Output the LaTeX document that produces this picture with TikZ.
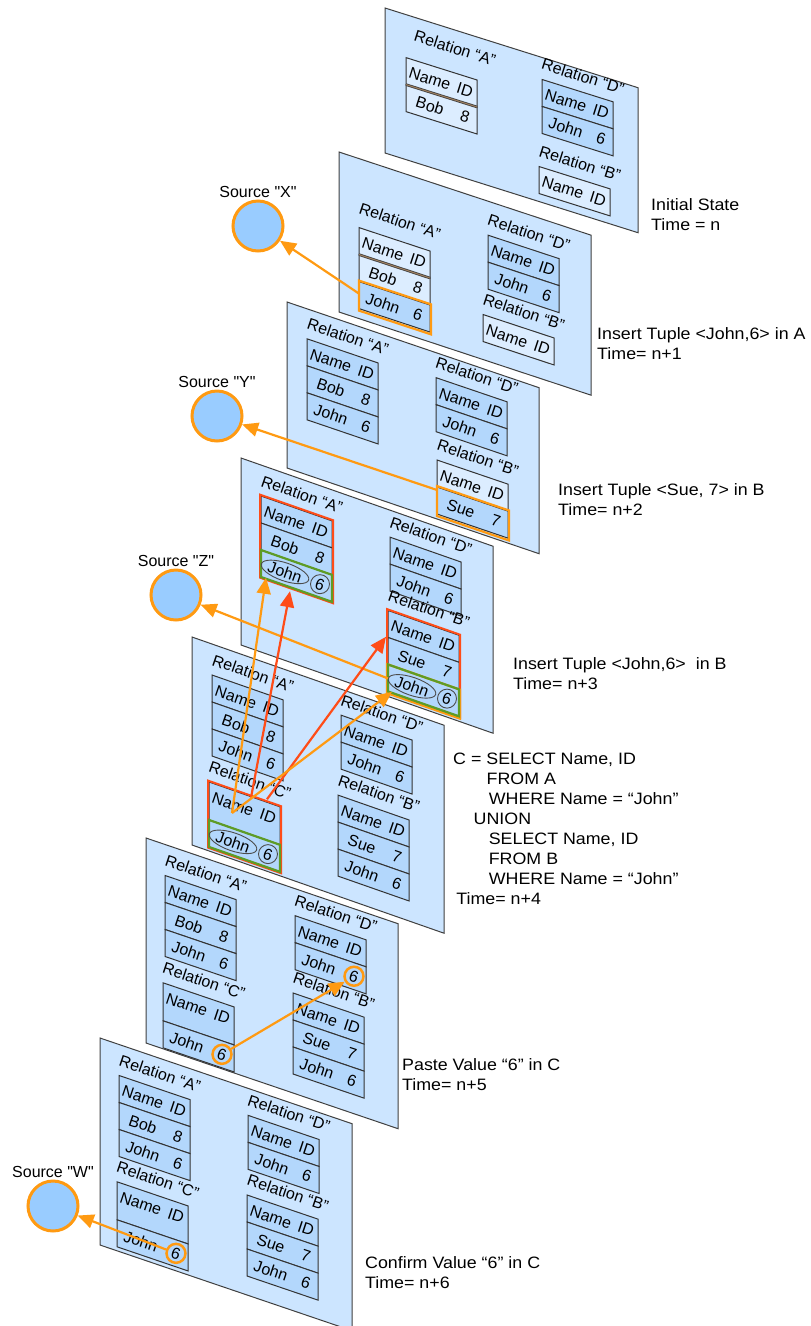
\documentclass[tikz,border=0pt]{standalone}
\usepackage{fontspec}
\setmainfont{Liberation Sans}
\newfontfamily\plainsans{Liberation Sans}[Ligatures=NoCommon]
\usetikzlibrary{arrows.meta,positioning,shapes.geometric}

\definecolor{panelblue}{HTML}{CCE5FF}
\definecolor{cellblue}{HTML}{B3D7FC}
\definecolor{cellpale}{HTML}{DCEDFF}
\definecolor{srcblue}{HTML}{99CCFF}
\definecolor{hotorange}{HTML}{FF9A12}
\definecolor{selred}{HTML}{FF4C18}
\definecolor{matchgreen}{HTML}{5E9C26}

\newcommand{\cellfont}{\fontsize{16}{19}\selectfont}
\newcommand{\notefont}{\fontsize{16.5}{20}\selectfont}
\def\tilt{-18.5}

% label above a relation table: name, u, v (table corner), letter
\newcommand{\reltitle}[4]{%
  \node[rellabel] (#1) at (#2+41,#3-16) {Relation “#4”};}
% one table row: [height] name, u, v, cell style, left text, right text
\newcommand{\trow}[7][27]{%
  \draw[cell,#5] (#3,#4) rectangle ++(71,#1);
  \node[celltext] (#2-l) at (#3+24,#4+13.5) {#6};
  \node[celltext] (#2-r) at (#3+59,#4+13.5) {#7};}

\begin{document}
\begin{tikzpicture}[x=1pt,y=-1pt,
    panel/.style={draw=black!75,fill=panelblue,line width=1pt},
    cell/.style={draw=black!80,fill=cellblue,line width=1pt},
    pale/.style={fill=cellpale},
    sepline/.style={draw=black!75,double=brown!50!gray,double distance=1pt,line width=0.8pt},
    celltext/.style={rotate=\tilt,inner sep=0pt,text height=11.5pt,text depth=0pt,font=\cellfont},
    rellabel/.style={rotate=\tilt,inner sep=0pt,font=\cellfont},
    insbox/.style={draw=hotorange,line width=2.2pt},
    selbox/.style={draw=selred,line width=2pt},
    matchbox/.style={draw=matchgreen,line width=2.2pt},
    ring/.style={ellipse,draw=black!70,line width=0.9pt,minimum width=50pt,minimum height=18pt,rotate=\tilt},
    dot/.style={circle,draw=black!70,line width=0.9pt,minimum size=19pt},
    hotdot/.style={circle,draw=hotorange,line width=2.5pt,minimum size=19pt},
    source/.style={circle,draw=hotorange,fill=srcblue,line width=3pt,minimum size=50pt,inner sep=0pt},
    srclabel/.style={inner sep=0pt,font=\plainsans\cellfont},
    note/.style={anchor=north west,inner sep=0pt,align=left,font=\notefont,xscale=1.08},
    hotarrow/.style={draw=hotorange,line width=2.2pt,-{Triangle[length=16pt,width=14pt]}},
    redarrow/.style={draw=selred,line width=2.2pt,-{Triangle[length=16pt,width=14pt]}}]
\useasboundingbox (0,0) rectangle (811,1326);

% time n
\begin{scope}[shift={(385,8)},cm={1,-0.315,0,1,(0,0)}]
  \def\tilt{-17.5}
  \filldraw[panel] (0,0) rectangle (253,145);
  \reltitle{p1a-t}{29}{34}{A}
  \trow{p1a1}{21}{43}{pale}{Name}{ID}
  \trow{p1a2}{21}{70}{pale}{Bob}{8}
  \draw[sepline] (21,70) -- ++(71,0);
  \reltitle{p1d-t}{157}{22}{D}
  \trow{p1d1}{157}{22}{}{Name}{ID}
  \trow{p1d2}{157}{49}{}{John}{6}
  \reltitle{p1b-t}{154}{110}{B}
  \trow{p1b1}{154}{110}{pale}{Name}{ID}
\end{scope}

% time n+1
\begin{scope}[shift={(339,152)},cm={1,-0.33,0,1,(0,0)}]
  \def\tilt{-18.3}
  \filldraw[panel] (0,0) rectangle (252,160);
  \reltitle{p2a-t}{20}{65}{A}
  \trow{p2a1}{20}{69}{pale}{Name}{ID}
  \trow{p2a2}{20}{96}{pale}{Bob}{8}
  \trow{p2a3}{20}{123}{}{John}{6}
  \draw[sepline] (20,96) -- ++(71,0);
  \draw[insbox] (20,122) rectangle ++(72,30);
  \coordinate (p2-out) at (20,135);
  \reltitle{p2d-t}{149}{34}{D}
  \trow{p2d1}{149}{34}{}{Name}{ID}
  \trow{p2d2}{149}{61}{}{John}{6}
  \reltitle{p2b-t}{144}{115}{B}
  \trow{p2b1}{144}{115}{pale}{Name}{ID}
\end{scope}

% time n+2
\begin{scope}[shift={(287,302)},cm={1,-0.34,0,1,(0,0)}]
  \filldraw[panel] (0,0) rectangle (252,166);
  \reltitle{p3a-t}{20}{30}{A}
  \trow{p3a1}{20}{30}{}{Name}{ID}
  \trow{p3a2}{20}{57}{}{Bob}{8}
  \trow{p3a3}{20}{84}{}{John}{6}
  \reltitle{p3d-t}{149}{25}{D}
  \trow{p3d1}{149}{25}{}{Name}{ID}
  \trow{p3d2}{149}{52}{}{John}{6}
  \reltitle{p3b-t}{150}{107}{B}
  \trow{p3b1}{150}{107}{pale}{Name}{ID}
  \trow{p3b2}{150}{134}{}{Sue}{7}
  \draw[insbox] (150,133) rectangle ++(72,30);
  \coordinate (p3-out) at (150,137);
\end{scope}

% time n+3
\begin{scope}[shift={(241,458)},cm={1,-0.35,0,1,(0,0)}]
  \def\tilt{-19}
  \filldraw[panel] (0,0) rectangle (252,187);
  \reltitle{p4a-t}{20}{31}{A}
  \trow{p4a1}{20}{31}{}{Name}{ID}
  \trow{p4a2}{20}{58}{}{Bob}{8}
  \trow{p4a3}{20}{85}{}{John}{6}
  \draw[selbox] (19,30) rectangle ++(73,83);
  \draw[matchbox] (20,85) rectangle ++(71,27);
  \node[ring] (p4a-ring) at (p4a3-l) {};
  \node[dot] (p4a-dot) at (p4a3-r) {};
  \reltitle{p4d-t}{149}{27}{D}
  \trow{p4d1}{149}{27}{}{Name}{ID}
  \trow{p4d2}{149}{54}{}{John}{6}
  \reltitle{p4b-t}{147}{101}{B}
  \trow{p4b1}{147}{101}{}{Name}{ID}
  \trow{p4b2}{147}{128}{}{Sue}{7}
  \trow{p4b3}{147}{155}{}{John}{6}
  \draw[selbox] (146,100) rectangle ++(73,83);
  \draw[insbox] (146,155) rectangle ++(73,29);
  \draw[matchbox] (147,155) rectangle ++(71,27);
  \node[ring] (p4b-ring) at (p4b3-l) {};
  \node[dot] (p4b-dot) at (p4b3-r) {};
  \coordinate (p4-out) at (147,169);
  \coordinate (p4-a-hit) at (25,111);
  \coordinate (p4-a-red) at (49,116);
  \coordinate (p4-b-red) at (145,128);
  \coordinate (p4-b-hit) at (151,181);
\end{scope}

% time n+4
\begin{scope}[shift={(192,637)},cm={1,-0.35,0,1,(0,0)}]
  \def\tilt{-19}
  \filldraw[panel] (0,0) rectangle (252,208);
  \reltitle{p5a-t}{20}{31}{A}
  \trow{p5a1}{20}{31}{}{Name}{ID}
  \trow{p5a2}{20}{58}{}{Bob}{8}
  \trow{p5a3}{20}{85}{}{John}{6}
  \reltitle{p5c-t}{17}{139}{C}
  \trow[38]{p5c1}{17}{139}{}{Name}{ID}
  \trow{p5c2}{17}{177}{}{John}{6}
  \draw[selbox] (16,138) rectangle ++(73,67);
  \draw[matchbox] (17,177) rectangle ++(71,27);
  \node[ring] (p5c-ring) at (p5c2-l) {};
  \node[dot] (p5c-dot) at (p5c2-r) {};
  \reltitle{p5d-t}{149}{26}{D}
  \trow{p5d1}{149}{26}{}{Name}{ID}
  \trow{p5d2}{149}{53}{}{John}{6}
  \reltitle{p5b-t}{146}{107}{B}
  \trow{p5b1}{146}{107}{}{Name}{ID}
  \trow{p5b2}{146}{134}{}{Sue}{7}
  \trow{p5b3}{146}{161}{}{John}{6}
  \coordinate (p5-out) at (40,162);
  \coordinate (p5-red1) at (59,140);
  \coordinate (p5-red2) at (75,136);
\end{scope}

% time n+5
\begin{scope}[shift={(146,838)},cm={1,-0.34,0,1,(0,0)}]
  \filldraw[panel] (0,0) rectangle (252,205);
  \reltitle{p6a-t}{19}{31}{A}
  \trow{p6a1}{19}{31}{}{Name}{ID}
  \trow{p6a2}{19}{58}{}{Bob}{8}
  \trow{p6a3}{19}{85}{}{John}{6}
  \reltitle{p6c-t}{17}{139}{C}
  \trow[38]{p6c1}{17}{139}{}{Name}{ID}
  \trow{p6c2}{17}{177}{}{John}{6}
  \node[hotdot] (p6c-dot) at (p6c2-r) {};
  \reltitle{p6d-t}{149}{27}{D}
  \trow{p6d1}{149}{27}{}{Name}{ID}
  \trow{p6d2}{149}{54}{}{John}{6}
  \node[hotdot] (p6d-dot) at (p6d2-r) {};
  \reltitle{p6b-t}{147}{105}{B}
  \trow{p6b1}{147}{105}{}{Name}{ID}
  \trow{p6b2}{147}{132}{}{Sue}{7}
  \trow{p6b3}{147}{159}{}{John}{6}
\end{scope}

% time n+6
\begin{scope}[shift={(100,1038)},cm={1,-0.34,0,1,(0,0)}]
  \filldraw[panel] (0,0) rectangle (252,207);
  \reltitle{p7a-t}{19}{31}{A}
  \trow{p7a1}{19}{31}{}{Name}{ID}
  \trow{p7a2}{19}{58}{}{Bob}{8}
  \trow{p7a3}{19}{85}{}{John}{6}
  \reltitle{p7c-t}{17}{138}{C}
  \trow[38]{p7c1}{17}{138}{}{Name}{ID}
  \trow{p7c2}{17}{176}{}{John}{6}
  \node[hotdot] (p7c-dot) at (p7c2-r) {};
  \reltitle{p7d-t}{148}{27}{D}
  \trow{p7d1}{148}{27}{}{Name}{ID}
  \trow{p7d2}{148}{54}{}{John}{6}
  \reltitle{p7b-t}{147}{107}{B}
  \trow{p7b1}{147}{107}{}{Name}{ID}
  \trow{p7b2}{147}{134}{}{Sue}{7}
  \trow{p7b3}{147}{161}{}{John}{6}
\end{scope}

% sources
\node[source] (srcX) at (258,226) {};
\node[srclabel,above=2pt of srcX] (srcX-t) {Source "X"};
\node[source] (srcY) at (217,416) {};
\node[srclabel,above=2pt of srcY] (srcY-t) {Source "Y"};
\node[source] (srcZ) at (176,595) {};
\node[srclabel,above=2pt of srcZ] (srcZ-t) {Source "Z"};
\node[source] (srcW) at (53,1206) {};
\node[srclabel,above=2pt of srcW] (srcW-t) {Source "W"};

% arrows
\draw[hotarrow] (p2-out) -- (srcX);
\draw[hotarrow] (p3-out) -- (srcY);
\draw[hotarrow] (p4-out) -- (srcZ);
\draw[hotarrow] (p5-out) -- (p4-a-hit);
\draw[redarrow] (p5-red1) -- (p4-a-red);
\draw[redarrow] (p5-red2) -- (p4-b-red);
\draw[hotarrow] (p5-out) -- (p4-b-hit);
\draw[hotarrow] (p6c-dot) -- (p6d-dot);
\draw[hotarrow] (p7c-dot) -- (srcW);

% steps
\node[note] (t1) at (651,198) {Initial State\\Time = n};
\node[note] (t2) at (597,327) {Insert Tuple <John,6> in A\\Time= n+1};
\node[note] (t3) at (558,483) {Insert Tuple <Sue, 7> in B\\Time= n+2};
\node[note] (t4) at (513,657) {Insert Tuple <John,6>\ \ in B\\Time= n+3};
\node[note] (t5) at (453,753) {C = SELECT Name, ID\\
  \hspace*{31pt}FROM A\\
  \hspace*{33pt}WHERE Name = “John”\\
  \hspace*{19pt}UNION\\
  \hspace*{33pt}SELECT Name, ID\\
  \hspace*{33pt}FROM B\\
  \hspace*{33pt}WHERE Name = “John”\\
  \hspace*{3pt}Time= n+4};
\node[note] (t6) at (402,1058) {Paste Value “6” in C\\Time= n+5};
\node[note] (t7) at (365,1256) {Confirm Value “6” in C\\Time= n+6};
\end{tikzpicture}
\end{document}
